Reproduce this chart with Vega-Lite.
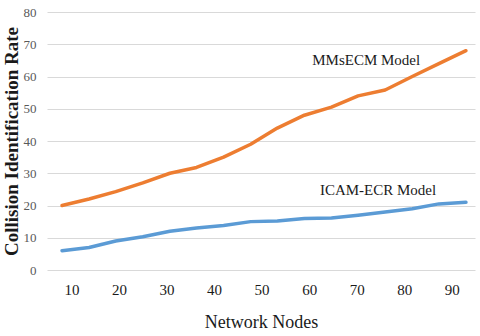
{
  "$schema": "https://vega.github.io/schema/vega-lite/v6.json",
  "width": 428,
  "height": 258,
  "autosize": {"type": "none"},
  "padding": {"left": 47, "top": 12, "right": 5, "bottom": 66},
  "background": "white",
  "config": {"view": {"stroke": null}},
  "datasets": {
    "lines": [
      {"nodes": 8, "rate": 20, "model": "MMsECM"},
      {"nodes": 13.7, "rate": 22, "model": "MMsECM"},
      {"nodes": 19.3, "rate": 24.3, "model": "MMsECM"},
      {"nodes": 25, "rate": 27, "model": "MMsECM"},
      {"nodes": 30.7, "rate": 30, "model": "MMsECM"},
      {"nodes": 36.3, "rate": 31.8, "model": "MMsECM"},
      {"nodes": 42, "rate": 35, "model": "MMsECM"},
      {"nodes": 47.7, "rate": 39, "model": "MMsECM"},
      {"nodes": 53.3, "rate": 44, "model": "MMsECM"},
      {"nodes": 59, "rate": 48, "model": "MMsECM"},
      {"nodes": 64.7, "rate": 50.5, "model": "MMsECM"},
      {"nodes": 70.3, "rate": 54, "model": "MMsECM"},
      {"nodes": 76, "rate": 55.8, "model": "MMsECM"},
      {"nodes": 81.7, "rate": 60, "model": "MMsECM"},
      {"nodes": 87.3, "rate": 64, "model": "MMsECM"},
      {"nodes": 93, "rate": 68, "model": "MMsECM"},
      {"nodes": 8, "rate": 6, "model": "ICAM-ECR"},
      {"nodes": 13.7, "rate": 7, "model": "ICAM-ECR"},
      {"nodes": 19.3, "rate": 9, "model": "ICAM-ECR"},
      {"nodes": 25, "rate": 10.3, "model": "ICAM-ECR"},
      {"nodes": 30.7, "rate": 12, "model": "ICAM-ECR"},
      {"nodes": 36.3, "rate": 13, "model": "ICAM-ECR"},
      {"nodes": 42, "rate": 13.8, "model": "ICAM-ECR"},
      {"nodes": 47.7, "rate": 15, "model": "ICAM-ECR"},
      {"nodes": 53.3, "rate": 15.2, "model": "ICAM-ECR"},
      {"nodes": 59, "rate": 16, "model": "ICAM-ECR"},
      {"nodes": 64.7, "rate": 16.1, "model": "ICAM-ECR"},
      {"nodes": 70.3, "rate": 17, "model": "ICAM-ECR"},
      {"nodes": 76, "rate": 18, "model": "ICAM-ECR"},
      {"nodes": 81.7, "rate": 19, "model": "ICAM-ECR"},
      {"nodes": 87.3, "rate": 20.5, "model": "ICAM-ECR"},
      {"nodes": 93, "rate": 21, "model": "ICAM-ECR"}
    ],
    "labels": [
      {"nodes": 72, "rate": 65, "label": "MMsECM Model"},
      {"nodes": 74.5, "rate": 24.8, "label": "ICAM-ECR Model"}
    ]
  },
  "encoding": {
    "x": {
      "field": "nodes", "type": "quantitative",
      "scale": {"domain": [4.84, 94.9], "nice": false, "zero": false},
      "axis": {
        "values": [10, 20, 30, 40, 50, 60, 70, 80, 90],
        "grid": false, "domain": false, "ticks": false, "labelOverlap": false,
        "labelFont": "Liberation Serif", "labelFontSize": 15, "labelColor": "#1a1a1a",
        "labelPadding": 12,
        "title": "Network Nodes", "titleFont": "Liberation Serif", "titleFontSize": 18,
        "titleFontWeight": "normal", "titleColor": "#1a1a1a", "titlePadding": 16
      }
    },
    "y": {
      "field": "rate", "type": "quantitative",
      "scale": {"domain": [0, 80], "nice": false},
      "axis": {
        "values": [0, 10, 20, 30, 40, 50, 60, 70, 80],
        "grid": true, "gridColor": "#d9d9d9", "gridWidth": 1.2,
        "domain": false, "ticks": false, "labelOverlap": false,
        "labelFont": "Liberation Sans Narrow", "labelFontSize": 13, "labelColor": "#595959",
        "labelPadding": 11,
        "title": "Collision Identification Rate", "titleFont": "Liberation Serif",
        "titleFontSize": 19, "titleFontWeight": "bold", "titleColor": "#1a1a1a",
        "titlePadding": 2
      }
    }
  },
  "layer": [
    {
      "data": {"name": "lines"},
      "mark": {"type": "line", "strokeWidth": 3.5, "strokeCap": "round", "strokeJoin": "round"},
      "encoding": {
        "color": {
          "field": "model", "type": "nominal",
          "scale": {"domain": ["MMsECM", "ICAM-ECR"], "range": ["#ED7D31", "#5B9BD5"]},
          "legend": null
        }
      }
    },
    {
      "data": {"name": "labels"},
      "mark": {"type": "text", "font": "Liberation Serif", "fontSize": 15, "color": "#1a1a1a", "align": "center", "baseline": "middle"},
      "encoding": {
        "text": {"field": "label"}
      }
    }
  ]
}
